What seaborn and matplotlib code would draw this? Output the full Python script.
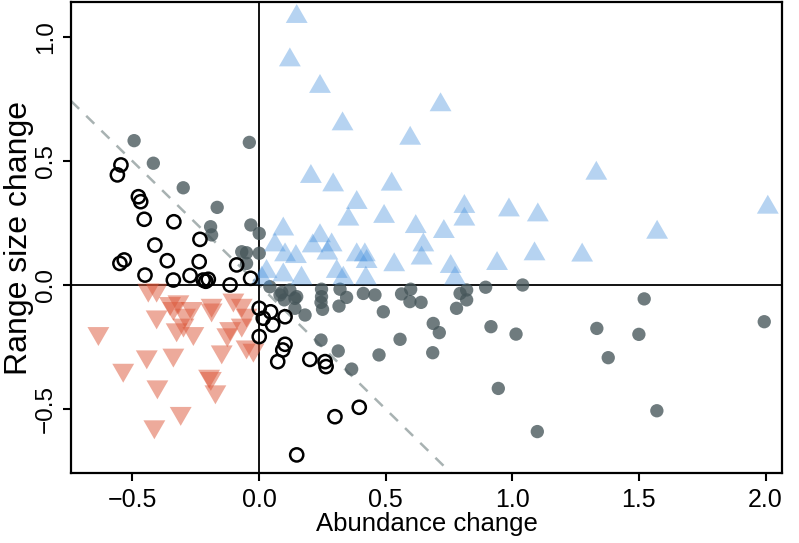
import numpy as np
import pandas as pd
import matplotlib
matplotlib.use("Agg")
import matplotlib.pyplot as plt
from matplotlib.path import Path
import seaborn as sns

# ================================
# Data
# ================================
# range expansion + abundance increase (blue, up triangles)
up_x = [0.149, 0.122, 0.241, 0.717, 0.330, 0.597, 0.205, 0.293, 0.524, 0.386,
        0.811, 0.987, 1.332, 1.101, 2.009, 1.572, 1.088, 1.276, 0.940,
        0.353, 0.494, 0.811, 0.096, 0.619, 0.730, 0.241, 0.063, 0.212, 0.287,
        0.649, 0.103, 0.146, 0.270, 0.386, 0.418, 0.425, 0.642, 0.534, 0.757,
        0.030, 0.096, 0.168, 0.307, 0.333, 0.422, 0.774, 0.011]
up_y = [1.082, 0.907, 0.800, 0.726, 0.649, 0.591, 0.437, 0.403, 0.406, 0.332,
        0.316, 0.302, 0.450, 0.282, 0.313, 0.212, 0.125, 0.120, 0.086,
        0.265, 0.276, 0.265, 0.225, 0.235, 0.215, 0.198, 0.161, 0.157, 0.161,
        0.161, 0.121, 0.114, 0.128, 0.121, 0.121, 0.094, 0.108, 0.081, 0.074,
        0.054, 0.040, 0.027, 0.054, 0.027, 0.027, 0.027, 0.027]

# range contraction + abundance decrease (red, down triangles)
down_x = [-0.437, -0.404, -0.351, -0.318, -0.338, -0.266, -0.292, -0.187, -0.187,
          -0.101, -0.068, -0.404, -0.049, -0.634, -0.325, -0.259, -0.114, -0.068,
          -0.298, -0.125, -0.049, -0.022, -0.147, -0.443, -0.338, -0.536, -0.197,
          -0.190, -0.401, -0.172, -0.309, -0.413]
down_y = [-0.020, -0.020, -0.074, -0.067, -0.094, -0.094, -0.121, -0.081, -0.100,
          -0.060, -0.081, -0.128, -0.121, -0.195, -0.180, -0.195, -0.175, -0.161,
          -0.161, -0.200, -0.249, -0.262, -0.269, -0.289, -0.282, -0.343, -0.367,
          -0.376, -0.410, -0.430, -0.517, -0.571]

# open circles
open_x = [-0.545, -0.559, -0.476, -0.467, -0.453, -0.336, -0.233, -0.411, -0.532,
          -0.549, -0.362, -0.236, -0.088, -0.450, -0.338, -0.272, -0.220, -0.200,
          -0.210, -0.114, -0.033, 0.001, 0.046, 0.103, 0.017, 0.054, 0.001, 0.103,
          0.094, 0.074, 0.201, 0.261, 0.265, 0.396, 0.300, 0.149]
open_y = [0.484, 0.444, 0.356, 0.336, 0.265, 0.255, 0.184, 0.161, 0.101,
          0.087, 0.098, 0.094, 0.081, 0.040, 0.020, 0.038, 0.020, 0.023,
          0.015, 0.000, 0.027, -0.094, -0.108, -0.128, -0.134, -0.161, -0.208, -0.239,
          -0.262, -0.309, -0.300, -0.309, -0.329, -0.493, -0.531, -0.685]

# grey filled circles
grey_x = [-0.493, -0.038, -0.417, -0.299, -0.165, -0.191, -0.187, -0.032, 0.001,
          -0.068, -0.049, 0.001, -0.049, 0.043, 0.083, 0.122, 0.142, 0.182, 0.090,
          0.100, 0.149, 0.142, 0.247, 0.247, 0.245, 0.251, 0.320, 0.346, 0.316,
          0.412, 0.458, 0.491, 0.563, 0.599, 0.596, 0.640, 0.688, 0.712, 0.794,
          0.820, 0.820, 0.780, 0.895, 0.916, 1.015, 0.245, 0.313, 0.366, 0.474,
          0.557, 0.686, 0.945, 1.041, 1.521, 1.334, 1.500, 1.995, 1.379, 1.571,
          1.099]
grey_y = [0.582, 0.575, 0.491, 0.392, 0.313, 0.235, 0.202, 0.242, 0.208,
          0.134, 0.130, 0.128, 0.087, -0.007, -0.040, -0.020, -0.054, -0.121, -0.030,
          -0.060, -0.047, -0.094, -0.017, -0.047, -0.070, -0.098, -0.017, -0.050, -0.085,
          -0.034, -0.040, -0.108, -0.036, -0.017, -0.067, -0.070, -0.155, -0.192, -0.034,
          -0.020, -0.060, -0.094, -0.009, -0.168, -0.198, -0.222, -0.266, -0.339, -0.282,
          -0.219, -0.273, -0.417, 0.000, -0.056, -0.175, -0.199, -0.148, -0.293, -0.507,
          -0.591]

x_ticks = [-0.5, 0.0, 0.5, 1.0, 1.5, 2.0]
y_ticks = [-0.5, 0.0, 0.5, 1.0]

df_up = pd.DataFrame({"abund": up_x, "range": up_y})
df_down = pd.DataFrame({"abund": down_x, "range": down_y})
df_open = pd.DataFrame({"abund": open_x, "range": open_y})
df_grey = pd.DataFrame({"abund": grey_x, "range": grey_y})

# equilateral triangles like R's pch 17 / 25
tri_up = Path([(0, 1), (-0.866, -0.5), (0.866, -0.5), (0, 1)],
              [Path.MOVETO, Path.LINETO, Path.LINETO, Path.CLOSEPOLY])
tri_down = Path([(0, -1), (-0.866, 0.5), (0.866, 0.5), (0, -1)],
                [Path.MOVETO, Path.LINETO, Path.LINETO, Path.CLOSEPOLY])

# ================================
# Plot
# ================================
sns.set_style("white")
plt.rcParams['font.family'] = ['Liberation Sans', 'DejaVu Sans']
plt.rcParams.update({'text.color': 'black', 'axes.labelcolor': 'black',
                     'xtick.color': 'black', 'ytick.color': 'black'})

fig = plt.figure(figsize=(7.99, 5.43), dpi=100)
ax = fig.add_axes([0.0889, 0.1289, 0.8898, 0.8674])

ax.axline((0, 0), slope=-1, color='#a8b2b2', lw=1.8, ls=(0, (4.5, 4)), zorder=1)
ax.axhline(0, color='black', lw=1.3, zorder=1)
ax.axvline(0, color='black', lw=1.3, zorder=1)

sns.scatterplot(data=df_grey, x="abund", y="range", ax=ax, color='#46565a',
                alpha=0.78, s=92, edgecolor='none', zorder=2)
sns.scatterplot(data=df_up, x="abund", y="range", ax=ax, marker=tri_up, color='#3f8ddc',
                alpha=0.38, s=330, edgecolor='none', zorder=3)
sns.scatterplot(data=df_down, x="abund", y="range", ax=ax, marker=tri_down, color='#dc5638',
                alpha=0.5, s=330, edgecolor='none', zorder=3)
sns.scatterplot(data=df_open, x="abund", y="range", ax=ax, facecolor='none',
                edgecolor='black', linewidth=1.8, s=90, zorder=4)

ax.set_xlim(-0.742, 2.065)
ax.set_ylim(-0.758, 1.141)
ax.set_xticks(x_ticks)
ax.set_yticks(y_ticks)
ax.set_xticklabels([f"{v:.1f}".replace('-', '\u2212') for v in x_ticks], fontsize=18)
ax.set_yticklabels([f"{v:.1f}".replace('-', '\u2212') for v in y_ticks],
                   rotation=90, va='center', fontsize=17.5)
ax.tick_params(axis='both', direction='out', length=6, width=1.5, color='black',
               labelcolor='black', bottom=True, left=True)
ax.tick_params(axis='x', pad=5)
ax.tick_params(axis='y', pad=4)

ax.set_xlabel("Abundance change", fontsize=18.5, labelpad=0, color='black')
ax.set_ylabel("Range size change", fontsize=23, labelpad=1, color='black')

for sp in ax.spines.values():
    sp.set_color('black')
    sp.set_linewidth(1.6)

fig.savefig("out.png", dpi=100)
